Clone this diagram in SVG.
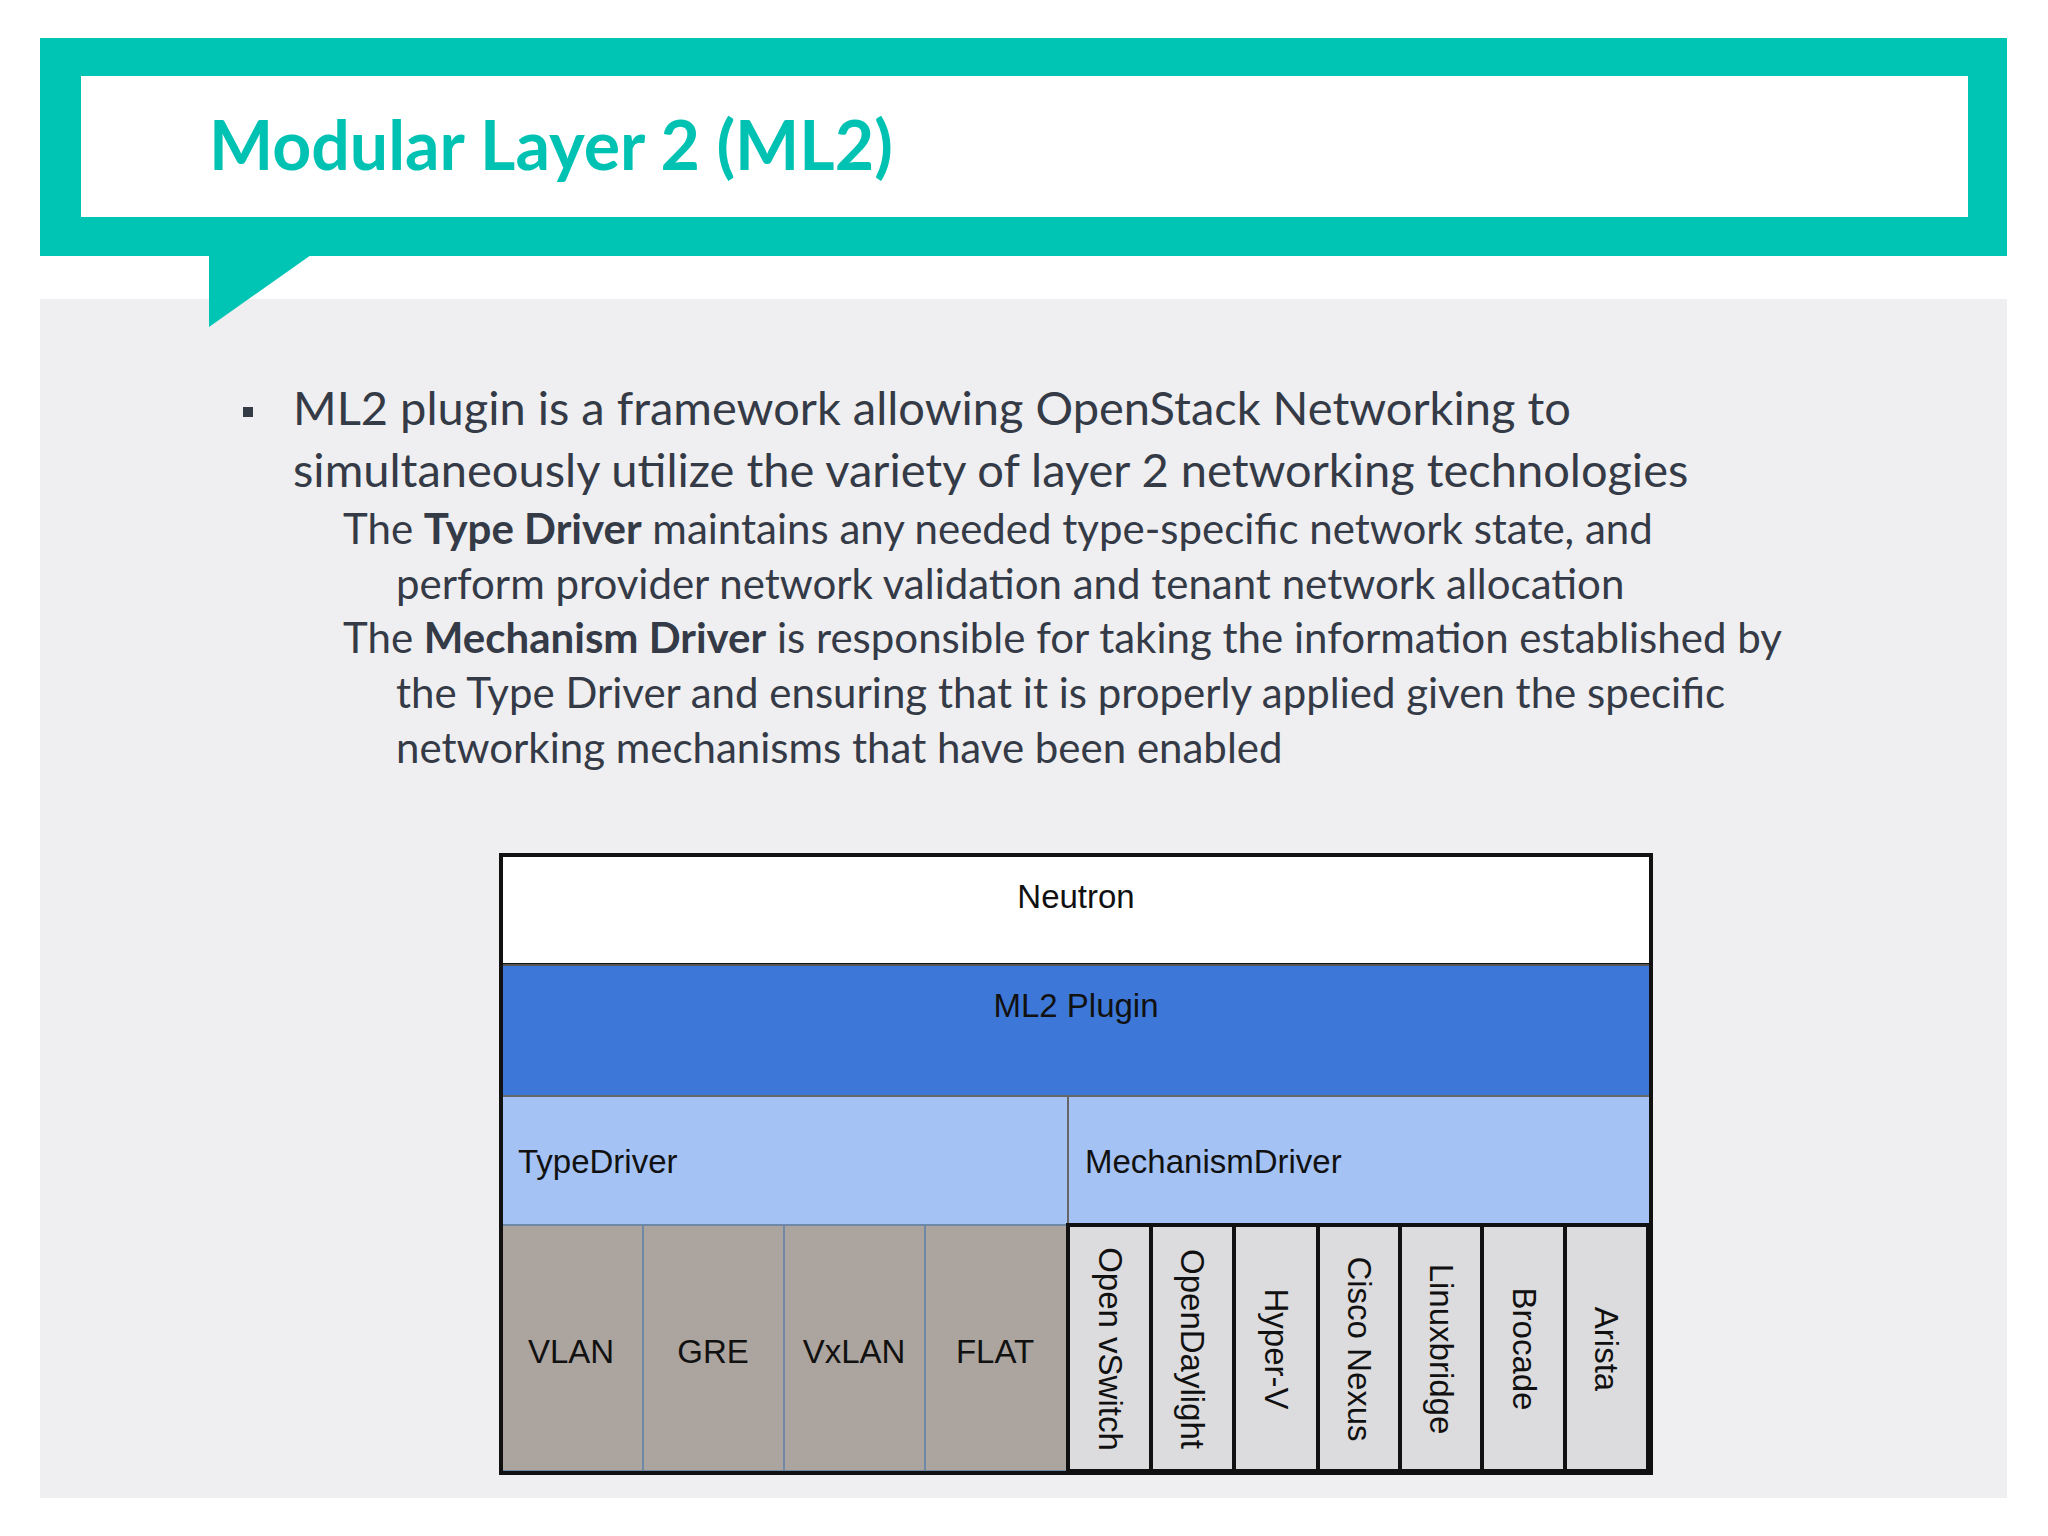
<svg xmlns="http://www.w3.org/2000/svg" width="2048" height="1536" viewBox="0 0 2048 1536">
<style>
.b{font-family:Lato,"Open Sans",sans-serif;fill:#343a46;font-size:47px}
.s{font-family:Lato,"Open Sans",sans-serif;fill:#343a46;font-size:42px}
.d{font-family:"Liberation Sans",Arial,sans-serif;fill:#111;font-size:33px}
.c{stroke:#111;stroke-width:4;fill:#dcdbdd}
</style>
<rect width="2048" height="1536" fill="#fff"/>
<rect x="40" y="299" width="1967" height="1199" fill="#efeef0"/>
<g id="header">
<rect x="40" y="38" width="1967" height="218" fill="#00c4b4"/>
<rect x="81" y="76" width="1887" height="141" fill="#fff"/>
<polygon points="209,255 311,255 209,327" fill="#00c4b4"/>
<text x="209" y="170" font-family="Lato,'Open Sans',sans-serif" font-weight="bold" font-size="68" fill="#00c2b3">Modular Layer 2 (ML2)</text>
</g>
<g id="body">
<rect x="243" y="407" width="10" height="10" fill="#343a46"/>
<text class="b" x="293" y="425">ML2 plugin is a framework allowing OpenStack Networking to</text>
<text class="b" x="293" y="487">simultaneously utilize the variety of layer 2 networking technologies</text>
<text class="s" x="343" y="544">The <tspan font-weight="bold">Type Driver</tspan> maintains any needed type-specific network state, and</text>
<text class="s" x="396" y="599">perform provider network validation and tenant network allocation</text>
<text class="s" x="343" y="653">The <tspan font-weight="bold">Mechanism Driver</tspan> is responsible for taking the information established by</text>
<text class="s" x="396" y="708">the Type Driver and ensuring that it is properly applied given the specific</text>
<text class="s" x="396" y="763">networking mechanisms that have been enabled</text>
</g>
<g id="diagram">
<g id="neutron"><rect x="501" y="855" width="1150" height="110" fill="#fff" stroke="#111" stroke-width="4"/><text class="d" x="1076" y="908" text-anchor="middle">Neutron</text></g>
<g id="ml2"><rect x="502" y="965" width="1148" height="131" fill="#3d78d8" stroke="#555" stroke-width="2"/><text class="d" x="1076" y="1017" text-anchor="middle">ML2 Plugin</text></g>
<g id="typedriver"><rect x="502" y="1096" width="566" height="129" fill="#a4c2f4" stroke="#666" stroke-width="2"/><text class="d" x="518" y="1173">TypeDriver</text></g>
<g id="mechdriver"><rect x="1068" y="1096" width="582" height="129" fill="#a4c2f4" stroke="#666" stroke-width="2"/><text class="d" x="1085" y="1173">MechanismDriver</text></g>
<g id="types" fill="#aca49e" stroke="#7088a8" stroke-width="2">
<rect x="502" y="1225" width="141" height="246"/><rect x="643" y="1225" width="141" height="246"/><rect x="784" y="1225" width="141" height="246"/><rect x="925" y="1225" width="143" height="246"/>
</g>
<g class="d" text-anchor="middle"><text class="d" x="571" y="1363" text-anchor="middle">VLAN</text><text class="d" x="713" y="1363" text-anchor="middle">GRE</text><text class="d" x="854" y="1363" text-anchor="middle">VxLAN</text><text class="d" x="995" y="1363" text-anchor="middle">FLAT</text></g>
<g id="mechs">
<rect class="c" x="1068" y="1225" width="83" height="246"/><rect class="c" x="1151" y="1225" width="83" height="246"/><rect class="c" x="1234" y="1225" width="84" height="246"/><rect class="c" x="1318" y="1225" width="82" height="246"/><rect class="c" x="1400" y="1225" width="82" height="246"/><rect class="c" x="1482" y="1225" width="83" height="246"/><rect class="c" x="1565" y="1225" width="83" height="246"/>
<text class="d" text-anchor="middle" dominant-baseline="central" transform="translate(1110,1349) rotate(90)">Open vSwitch</text>
<text class="d" text-anchor="middle" dominant-baseline="central" transform="translate(1192,1349) rotate(90)">OpenDaylight</text>
<text class="d" text-anchor="middle" dominant-baseline="central" transform="translate(1276,1349) rotate(90)">Hyper-V</text>
<text class="d" text-anchor="middle" dominant-baseline="central" transform="translate(1359,1349) rotate(90)">Cisco Nexus</text>
<text class="d" text-anchor="middle" dominant-baseline="central" transform="translate(1441,1349) rotate(90)">Linuxbridge</text>
<text class="d" text-anchor="middle" dominant-baseline="central" transform="translate(1524,1349) rotate(90)">Brocade</text>
<text class="d" text-anchor="middle" dominant-baseline="central" transform="translate(1606,1349) rotate(90)">Arista</text>
</g>
<rect x="501" y="855" width="1150" height="618" fill="none" stroke="#111" stroke-width="4"/>
</g>
</svg>
